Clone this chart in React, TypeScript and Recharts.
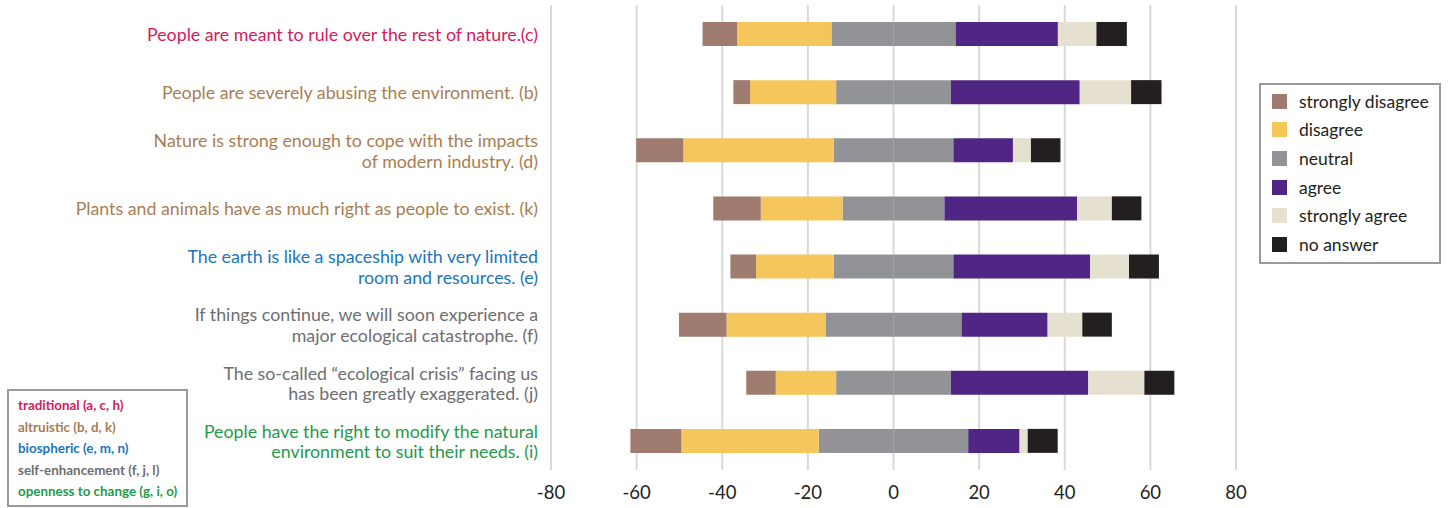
import React from "react";
import { BarChart, Bar, XAxis, YAxis, CartesianGrid } from "recharts";

// one entry per statement, top to bottom
const statementIds = ["c", "b", "d", "k", "e", "f", "j", "i"];
const statementLines = [
  ["People are meant to rule over the rest of nature.(c)"],
  ["People are severely abusing the environment. (b)"],
  ["Nature is strong enough to cope with the impacts", "of modern industry. (d)"],
  ["Plants and animals have as much right as people to exist. (k)"],
  ["The earth is like a spaceship with very limited", "room and resources. (e)"],
  ["If things continue, we will soon experience a", "major ecological catastrophe. (f)"],
  ["The so-called \u201cecological crisis\u201d facing us", "has been greatly exaggerated. (j)"],
  ["People have the right to modify the natural", "environment to suit their needs. (i)"],
];
const statementGroup = [
  "traditional",
  "altruistic",
  "altruistic",
  "altruistic",
  "biospheric",
  "self",
  "self",
  "openness",
];

// percentages per answer
const stronglyDisagree = [8.1, 3.9, 11, 11.1, 6, 11.1, 6.9, 11.9];
const disagree = [22, 20.1, 35.1, 19.1, 18.1, 23.1, 14.1, 32.1];
const neutral = [29, 26.8, 28, 23.8, 28, 31.8, 26.8, 34.9];
const agree = [23.9, 30.1, 13.9, 31, 31.9, 20.1, 32.1, 12];
const stronglyAgree = [9, 12, 4.2, 8.1, 9.1, 8.1, 13.1, 1.9];
const noAnswer = [7.1, 7.1, 6.9, 6.9, 7, 6.9, 7, 7];

const xTicks = [-80, -60, -40, -20, 0, 20, 40, 60, 80];

const groupColors: Record<string, string> = {
  traditional: "#d7195e",
  altruistic: "#a97d52",
  biospheric: "#1b75bb",
  self: "#6d6e71",
  openness: "#1f9a4a",
};

const groupLegend = [
  { key: "traditional", label: "traditional (a, c, h)" },
  { key: "altruistic", label: "altruistic (b, d, k)" },
  { key: "biospheric", label: "biospheric (e, m, n)" },
  { key: "self", label: "self-enhancement (f, j, l)" },
  { key: "openness", label: "openness to change (g, i, o)" },
];

const answerLegend = [
  { label: "strongly disagree", color: "#a07b6f" },
  { label: "disagree", color: "#f4c65c" },
  { label: "neutral", color: "#929396" },
  { label: "agree", color: "#4f2684" },
  { label: "strongly agree", color: "#e6e0d1" },
  { label: "no answer", color: "#231f20" },
];

const data = statementIds.map((id, i) => ({
  id,
  neutralLeft: -neutral[i] / 2,
  disagree: -disagree[i],
  stronglyDisagree: -stronglyDisagree[i],
  neutralRight: neutral[i] / 2,
  agree: agree[i],
  stronglyAgree: stronglyAgree[i],
  noAnswer: noAnswer[i],
}));

const FONT = "Lato, 'Open Sans', sans-serif";

function StatementTick(props: any) {
  const { x, y, payload } = props;
  const idx = statementIds.indexOf(payload.value);
  const lines = statementLines[idx] || [];
  const color = groupColors[statementGroup[idx]];
  const lh = 20.5;
  const startY = y - ((lines.length - 1) * lh) / 2;
  return (
    <text x={x} y={startY} textAnchor="end" fill={color} fontSize={17.8} fontFamily={FONT} dominantBaseline="central">
      {lines.map((l, k) => (
        <tspan key={k} x={x} y={startY + k * lh}>
          {l}
        </tspan>
      ))}
    </text>
  );
}

export default function App() {
  return (
    <div style={{ position: "absolute", left: 0, top: 0, width: 1449, height: 508, background: "#fff" }}>
      <BarChart
        width={1449}
        height={508}
        data={data}
        layout="vertical"
        stackOffset="sign"
        margin={{ top: 5, right: 213, left: 0, bottom: 0 }}
      >
        <CartesianGrid horizontal={false} stroke="#d9d9d9" strokeWidth={2} />
        <XAxis
          type="number"
          domain={[-80, 80]}
          ticks={xTicks}
          axisLine={false}
          tickLine={false}
          tickSize={0}
          tickMargin={16}
          height={38}
          tick={{ fill: "#231f20", fontSize: 18.5, fontFamily: FONT }}
        />
        <YAxis
          type="category"
          dataKey="id"
          width={551}
          axisLine={false}
          tickLine={false}
          tickSize={0}
          tickMargin={13}
          tick={<StatementTick />}
        />
        <Bar dataKey="neutralLeft" stackId="s" fill={answerLegend[2].color} barSize={24} isAnimationActive={false} />
        <Bar dataKey="disagree" stackId="s" fill={answerLegend[1].color} barSize={24} isAnimationActive={false} />
        <Bar dataKey="stronglyDisagree" stackId="s" fill={answerLegend[0].color} barSize={24} isAnimationActive={false} />
        <Bar dataKey="neutralRight" stackId="s" fill={answerLegend[2].color} barSize={24} isAnimationActive={false} />
        <Bar dataKey="agree" stackId="s" fill={answerLegend[3].color} barSize={24} isAnimationActive={false} />
        <Bar dataKey="stronglyAgree" stackId="s" fill={answerLegend[4].color} barSize={24} isAnimationActive={false} />
        <Bar dataKey="noAnswer" stackId="s" fill={answerLegend[5].color} barSize={24} isAnimationActive={false} />
      </BarChart>

      {/* answer legend */}
      <div
        style={{
          position: "absolute",
          left: 1259,
          top: 83,
          width: 182,
          height: 181,
          border: "2px solid #9a9a9a",
          boxSizing: "border-box",
          fontFamily: FONT,
          fontSize: 17.5,
          color: "#231f20",
          paddingTop: 2,
        }}
      >
        {answerLegend.map((a) => (
          <div key={a.label} style={{ display: "flex", alignItems: "center", height: 28.6, paddingLeft: 11 }}>
            <span style={{ display: "inline-block", width: 15, height: 15, background: a.color, marginRight: 12, flexShrink: 0 }} />
            <span style={{ whiteSpace: "nowrap" }}>{a.label}</span>
          </div>
        ))}
      </div>

      {/* value group legend */}
      <div
        style={{
          position: "absolute",
          left: 7,
          top: 389,
          width: 181,
          height: 118,
          border: "2px solid #9a9a9a",
          boxSizing: "border-box",
          fontFamily: FONT,
          fontSize: 13.4,
          fontWeight: 700,
          paddingTop: 4,
          paddingLeft: 9,
          whiteSpace: "nowrap",
        }}
      >
        {groupLegend.map((g) => (
          <div key={g.key} style={{ color: groupColors[g.key], height: 21.5, lineHeight: "21.5px" }}>
            {g.label}
          </div>
        ))}
      </div>
    </div>
  );
}
